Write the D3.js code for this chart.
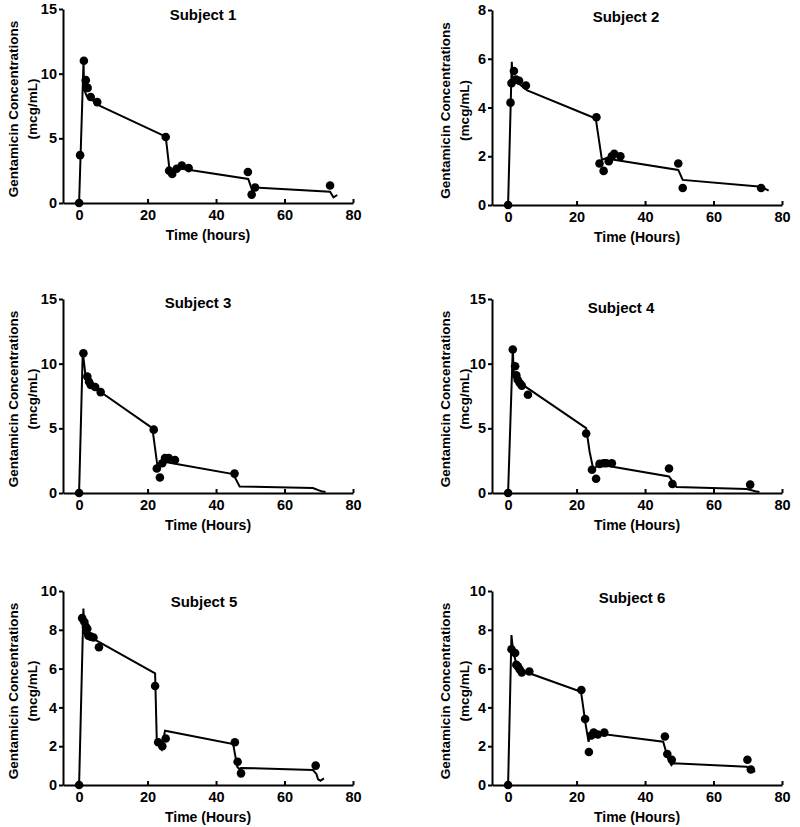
<!DOCTYPE html>
<html><head><meta charset="utf-8">
<script src="https://cdn.jsdelivr.net/npm/d3@7"></script>
<style>
body{margin:0;background:#fff}
svg{display:block}
text{font-family:"Liberation Sans",Arial,sans-serif;font-weight:bold;fill:#000}
</style>
</head><body><svg id="c" width="800" height="827"></svg>
<script>
// ---------- data ----------
const titles = ["Subject 1","Subject 2","Subject 3","Subject 4","Subject 5","Subject 6"];
const xLabels = ["Time (hours)","Time (Hours)","Time (Hours)","Time (Hours)","Time (Hours)","Time (Hours)"];
const yLabel1 = "Gentamicin Concentrations";
const yLabel2 = "(mcg/mL)";
const xTicks = [0,20,40,60,80];
const yMax = [15,8,15,15,10,10];
const yTicks = [[0,5,10,15],[0,2,4,6,8],[0,5,10,15],[0,5,10,15],[0,2,4,6,8,10],[0,2,4,6,8,10]];

// observed concentrations [time, conc]
const obs1 = [[0,0],[0.3,3.7],[1.4,11.0],[1.95,9.5],[2.5,8.9],[3.4,8.2],[5.3,7.8],[25.3,5.1],[26.3,2.5],[27.2,2.25],[28.5,2.65],[30,2.9],[32,2.7],[49.3,2.4],[50.4,0.65],[51.4,1.2],[73.3,1.35]];
const obs2 = [[0,0],[0.7,4.2],[1.0,5.0],[1.7,5.5],[2.3,5.15],[3.2,5.1],[5.2,4.9],[25.8,3.6],[26.7,1.7],[27.9,1.4],[29.4,1.8],[30.3,2.0],[31,2.1],[32.8,2.0],[49.7,1.7],[51,0.7],[73.9,0.7]];
const obs3 = [[0,0],[1.26,10.8],[2.4,9.0],[2.9,8.6],[3.4,8.35],[4.7,8.2],[6.3,7.8],[21.8,4.9],[22.7,1.9],[23.6,1.2],[24.3,2.3],[25.1,2.7],[26.2,2.7],[28,2.55],[45.4,1.5]];
const obs4 = [[0,0],[1.37,11.1],[2.05,9.8],[2.4,9.1],[2.8,8.75],[3.4,8.5],[4.0,8.3],[5.8,7.6],[22.8,4.6],[24.5,1.8],[25.7,1.1],[26.7,2.25],[27.9,2.3],[28.7,2.3],[30.3,2.3],[47,1.9],[48,0.7],[70.7,0.65]];
const obs5 = [[0,0],[0.9,8.6],[1.55,8.4],[2.0,8.15],[2.4,8.05],[2.7,7.7],[3.4,7.65],[4.2,7.6],[5.8,7.1],[22.2,5.1],[23.1,2.2],[24.3,2.0],[25.3,2.4],[45.5,2.2],[46.3,1.2],[47.3,0.6],[69.1,1.0]];
const obs6 = [[0,0],[1.0,7.0],[2.05,6.8],[2.4,6.2],[2.9,6.1],[3.4,5.95],[4.0,5.8],[6.2,5.85],[21.4,4.9],[22.5,3.4],[23.6,1.7],[24.3,2.55],[25,2.7],[26.2,2.6],[28.1,2.7],[45.8,2.5],[46.5,1.6],[47.8,1.3],[69.9,1.3],[70.9,0.8]];

// model-predicted curves [time, conc]
const fit1 = [[0,0],[1.3,11.0],[1.46,8.8],[2.24,8.27],[6.1,7.5],[25.3,5.13],[26.4,2.6],[27.2,2.3],[29,2.68],[32.4,2.55],[49.4,1.86],[50.6,0.95],[51.4,1.2],[73.3,0.87],[74.3,0.44],[75.4,0.62]];
const fit2 = [[0,0],[1.08,5.88],[1.3,5.1],[2.5,5.05],[5.6,4.7],[25.6,3.55],[27.4,1.85],[29,1.95],[30.5,1.87],[49.7,1.44],[51,1.03],[74,0.75],[76.1,0.59]];
const fit3 = [[0,0],[1.07,10.93],[1.85,9.14],[3,8.6],[6.1,7.85],[21.4,5.02],[22.7,2.44],[23.1,1.8],[24.6,2.44],[26,2.35],[45,1.46],[46.9,0.51],[68.3,0.39],[70.8,0.13],[72,0.08]];
const fit4 = [[0,0],[1.37,11.2],[1.66,9.19],[3,8.6],[6,8.05],[22.8,5.02],[23.8,3.21],[24.9,1.8],[26.5,2.24],[28,2.15],[47,1.28],[49.2,0.46],[69.7,0.31],[72.2,0.13],[73.4,0.08]];
const fit5 = [[0,0],[1.26,9.1],[1.55,7.8],[2.5,7.7],[22.2,5.76],[22.7,2.23],[23.5,2.0],[24.1,1.84],[25.1,2.8],[45,2.11],[46.2,0.94],[46.8,0.82],[47.3,0.88],[68.3,0.77],[69.3,0.57],[69.8,0.29],[70.5,0.22],[71.5,0.34]];
const fit6 = [[0,0],[0.98,7.73],[1.47,6.87],[2.5,6.2],[4,5.9],[21.3,4.81],[22.6,3.18],[23.5,2.23],[24.2,2.7],[45.3,2.23],[46.7,1.37],[47.7,1.03],[48.2,1.12],[69.7,0.94],[70.7,0.77],[72.2,0.69]];

const observed = [obs1,obs2,obs3,obs4,obs5,obs6];
const fitted = [fit1,fit2,fit3,fit4,fit5,fit6];

// ---------- layout ----------
const layout = [
  {x0:63, x1:353, top:9,   bottom:203, tx:203, ty:20,  yl:[13,32]},
  {x0:492,x1:782, top:10,  bottom:205, tx:626, ty:22,  yl:[445,464]},
  {x0:63, x1:353, top:299, bottom:493, tx:198, ty:308, yl:[13,32]},
  {x0:492,x1:782, top:299, bottom:493, tx:621, ty:313, yl:[445,464]},
  {x0:63, x1:353, top:591, bottom:785, tx:204, ty:607, yl:[13,32]},
  {x0:492,x1:782, top:591, bottom:785, tx:632, ty:603, yl:[445,464]}
];
const xMin = -4.7;

const svg = d3.select("#c");

layout.forEach((L,i)=>{
  const x = d3.scaleLinear().domain([xMin,80]).range([L.x0,L.x1]);
  const y = d3.scaleLinear().domain([0,yMax[i]]).range([L.bottom,L.top]);
  const g = svg.append("g");

  // x axis
  const gx = g.append("g").attr("transform",`translate(0,${L.bottom})`)
    .call(d3.axisBottom(x).tickValues(xTicks).tickSizeInner(-4).tickSizeOuter(0).tickPadding(7).tickFormat(d3.format("d")));
  // y axis
  const gy = g.append("g").attr("transform",`translate(${L.x0},0)`)
    .call(d3.axisLeft(y).tickValues(yTicks[i]).tickSizeInner(4).tickSizeOuter(0).tickPadding(2).tickFormat(d3.format("d")));
  [gx,gy].forEach(a=>{
    a.select(".domain").attr("stroke","#000").attr("stroke-width",2);
    a.selectAll(".tick line").attr("stroke","#000").attr("stroke-width",2);
    a.selectAll(".tick text").attr("font-size","14.5px").attr("font-family","Liberation Sans, Arial, sans-serif").attr("font-weight","bold").attr("fill","#000");
  });

  // fitted line
  const line = d3.line().x(d=>x(d[0])).y(d=>y(d[1]));
  g.append("path").datum(fitted[i]).attr("d",line)
    .attr("fill","none").attr("stroke","#000").attr("stroke-width",2);

  // observed points
  g.selectAll("circle.obs").data(observed[i]).join("circle").attr("class","obs")
    .attr("cx",d=>x(d[0])).attr("cy",d=>y(d[1])).attr("r",4.3).attr("fill","#000");

  // title
  g.append("text").attr("x",L.tx).attr("y",L.ty).attr("text-anchor","middle")
    .attr("font-size","15px").text(titles[i]);

  // x label
  g.append("text").attr("x",(L.x0+L.x1)/2).attr("y",L.bottom+37).attr("text-anchor","middle")
    .attr("font-size","14px").text(xLabels[i]);

  // y labels
  const cy = (L.top+L.bottom)/2 + 3;
  g.append("text").attr("transform",`translate(${L.yl[0]},${cy}) rotate(-90)`).attr("dy","0.36em")
    .attr("text-anchor","middle").attr("font-size","13.5px").text(yLabel1);
  g.append("text").attr("transform",`translate(${L.yl[1]},${cy}) rotate(-90)`).attr("dy","0.36em")
    .attr("text-anchor","middle").attr("font-size","13.5px").text(yLabel2);
});
</script></body></html>
